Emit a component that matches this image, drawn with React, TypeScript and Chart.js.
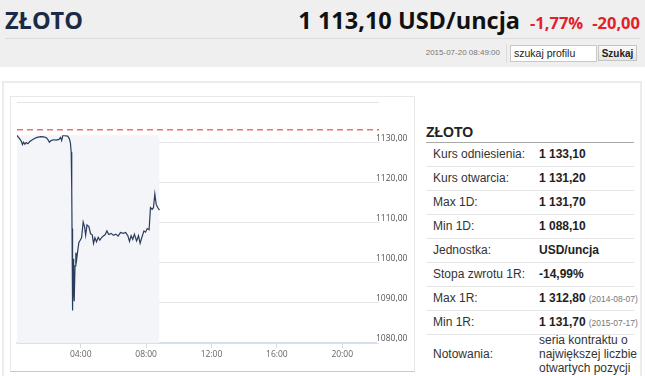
import React, { useEffect, useRef } from 'react';
import { Chart, registerables } from 'chart.js';

Chart.register(...registerables);

// ---- data ----
const timesMin = [6, 10, 16, 22, 26, 30, 35, 40, 46, 52, 60, 70, 80, 92, 104, 114, 120, 125, 131, 140, 150, 160, 166, 170, 174, 182, 192, 198, 202, 205, 207, 208, 210, 212, 214, 216, 219, 222, 225, 229, 233, 238, 243, 249, 254, 258, 263, 270, 276, 282, 287, 292, 298, 304, 310, 316, 322, 330, 336, 343, 352, 360, 369, 377, 386, 396, 405, 413, 419, 425, 431, 437, 445, 452, 458, 464, 472, 478, 484, 491, 496, 502, 507, 512, 517, 522, 529];
const prices = [1131.7, 1131.3, 1130.8, 1130.2, 1129.4, 1130.0, 1129.5, 1129.9, 1129.6, 1130.1, 1130.5, 1130.9, 1131.2, 1131.4, 1131.3, 1131.1, 1130.6, 1130.0, 1130.4, 1130.6, 1130.5, 1130.7, 1131.2, 1130.4, 1131.6, 1131.6, 1131.5, 1130.9, 1129.8, 1127.5, 1118.0, 1108.5, 1088.1, 1101.0, 1093.0, 1090.4, 1099.2, 1102.5, 1100.8, 1103.0, 1105.0, 1105.6, 1106.2, 1110.1, 1109.0, 1106.8, 1109.4, 1109.0, 1107.2, 1107.0, 1104.8, 1106.2, 1105.2, 1106.3, 1105.6, 1106.2, 1106.6, 1107.0, 1107.9, 1107.0, 1107.3, 1106.8, 1107.1, 1106.6, 1107.5, 1107.3, 1107.5, 1106.7, 1105.3, 1106.7, 1105.8, 1107.1, 1105.4, 1106.7, 1104.8, 1106.2, 1107.9, 1107.6, 1108.5, 1108.2, 1113.7, 1113.3, 1113.7, 1117.1, 1114.5, 1113.8, 1113.1];
const referencePrice = 1133.1;
const xRange = [6, 1324];
const referenceLineEnd = 1335;
const xTickMinutes = [240, 480, 720, 960, 1200];
const yGridValues = [1080, 1090, 1100, 1110, 1120, 1130, 1140];
const yLabelValues = [1080, 1090, 1100, 1110, 1120, 1130];

const tableLabels = ['Kurs odniesienia:', 'Kurs otwarcia:', 'Max 1D:', 'Min 1D:', 'Jednostka:', 'Stopa zwrotu 1R:', 'Max 1R:', 'Min 1R:'];
const tableValues = ['1 133,10', '1 131,20', '1 131,70', '1 088,10', 'USD/uncja', '-14,99%', '1 312,80', '1 131,70'];
const tableNotes = ['', '', '', '', '', '', '(2014-08-07)', '(2015-07-17)'];

const fmtHour = (m: number) => String(Math.floor(m / 60)).padStart(2, '0') + ':00';
const fmtPrice = (v: number) => v.toFixed(2).replace('.', ',');

function PriceChart() {
  const ref = useRef<HTMLCanvasElement | null>(null);
  useEffect(() => {
    if (!ref.current) return;
    const maxP = Math.max(...prices);
    const chart = new Chart(ref.current, {
      type: 'line',
      data: {
        datasets: [
          {
            data: timesMin.map((t, i) => ({ x: t, y: prices[i] })),
            borderColor: '#2b3d5c',
            borderWidth: 1.2,
            pointRadius: 0,
            fill: false,
            tension: 0,
            order: 0,
          },
          {
            data: [{ x: xRange[0], y: referencePrice }, { x: referenceLineEnd, y: referencePrice }],
            borderColor: '#ef7070',
            borderWidth: 1.4,
            borderDash: [6, 4],
            pointRadius: 0,
            fill: false,
            clip: false,
            order: 1,
          },
          {
            data: [{ x: timesMin[0], y: maxP }, { x: timesMin[timesMin.length - 1], y: maxP }],
            borderWidth: 0,
            borderColor: 'rgba(0,0,0,0)',
            backgroundColor: '#f4f5f8',
            pointRadius: 0,
            fill: 'start',
            order: 2,
          },
        ],
      },
      options: {
        animation: false,
        responsive: false,
        events: [],
        layout: { padding: { left: 7, top: 6, right: 0, bottom: 0 } },
        plugins: { legend: { display: false }, tooltip: { enabled: false } },
        scales: {
          x: {
            type: 'linear',
            min: xRange[0],
            max: xRange[1],
            afterBuildTicks: (s: any) => { s.ticks = xTickMinutes.map((v) => ({ value: v })); },
            afterFit: (s: any) => { s.height = 29; },
            ticks: {
              callback: (v: any) => fmtHour(Number(v)),
              font: { family: 'Open Sans', size: 8.5 },
              color: '#666',
              padding: 1,
              maxRotation: 0,
              autoSkip: false,
            },
            grid: { drawOnChartArea: false, drawTicks: true, tickLength: 5, color: '#d3dce8' },
            border: { color: '#d3dce8', width: 1.5 },
          },
          y: {
            position: 'right',
            min: 1080,
            max: 1140,
            afterBuildTicks: (s: any) => { s.ticks = yGridValues.map((v) => ({ value: v })); },
            afterFit: (s: any) => { s.width = 39; },
            ticks: {
              callback: (v: any) => (yLabelValues.includes(Number(v)) ? fmtPrice(Number(v)) : ''),
              font: { family: 'Open Sans', size: 8.5 },
              color: '#555',
              padding: -3,
              labelOffset: -4,
            },
            grid: { color: '#e4e4e4', drawTicks: true, tickLength: 3 },
            border: { display: false },
          },
        },
      },
    } as any);
    return () => chart.destroy();
  }, []);
  return <canvas ref={ref} width={405} height={276} style={{ width: 405, height: 276, display: 'block' }} />;
}

export default function App() {
  const abs = (o: any) => ({ position: 'absolute' as const, ...o });
  return (
    <div style={abs({ left: 0, top: 0, width: 645, height: 376, overflow: 'hidden', background: '#fff', fontFamily: 'Liberation Sans, Arial, sans-serif' })}>
      {/* header */}
      <div style={abs({ left: 0, top: 0, width: 645, height: 67, background: '#efefef' })} />
      <div style={abs({ left: 5, top: 5, fontFamily: 'Open Sans', fontWeight: 700, fontSize: 23.5, lineHeight: '30px', color: '#1b2a47' })}>ZŁOTO</div>
      <div style={abs({ right: 5, top: 5, display: 'flex', alignItems: 'baseline', whiteSpace: 'nowrap', fontFamily: 'Open Sans', fontWeight: 700 })}>
        <span style={{ fontSize: 23.5, lineHeight: '30px', color: '#111' }}>1 113,10 USD/uncja</span>
        <span style={{ fontSize: 16.5, color: '#e3202a', marginLeft: 10 }}>-1,77%</span>
        <span style={{ fontSize: 16.5, color: '#e3202a', marginLeft: 9 }}>-20,00</span>
      </div>
      <div style={abs({ left: 5, top: 38, width: 635, height: 1, background: '#dcdcdc' })} />
      <div style={abs({ right: 145, top: 48, fontSize: 8, color: '#777' })}>2015-07-20 08:49:00</div>
      <div style={abs({ left: 506, top: 44, width: 1, height: 19, background: '#dcdcdc' })} />
      <div style={abs({ left: 510, top: 45, width: 82, height: 15, background: '#fff', border: '1px solid #c8c8c8', fontSize: 10.5, lineHeight: '15px', paddingLeft: 3, color: '#222', boxSizing: 'content-box' })}>szukaj profilu</div>
      <div style={abs({ left: 598, top: 45, width: 39, height: 16, background: 'linear-gradient(#fafafa,#e4e4e4)', border: '1px solid #c4c4c4', fontSize: 10, fontWeight: 700, lineHeight: '16px', textAlign: 'center', color: '#222', boxSizing: 'border-box' })}>Szukaj</div>

      {/* outer container */}
      <div style={abs({ left: 2, top: 81, width: 640, height: 300, border: '2px solid #ececec', boxSizing: 'border-box' })} />
      {/* chart box */}
      <div style={abs({ left: 10, top: 96, width: 405, height: 276, borderLeft: '1px solid #e8e8e8', borderTop: '1px solid #e8e8e8', borderRight: '1px solid #e8e8e8', borderBottom: '1px solid #c8c8c8', boxSizing: 'border-box' })} />
      <div style={abs({ left: 10, top: 96 })}>
        <PriceChart />
      </div>

      {/* table */}
      <div style={abs({ left: 426, top: 124, fontWeight: 700, fontSize: 14, color: '#222', lineHeight: '16px' })}>ZŁOTO</div>
      <div style={abs({ left: 426, top: 142, width: 208, height: 1, background: '#a8a8a8' })} />
      {tableLabels.map((lab, i) => (
        <React.Fragment key={i}>
          <div style={abs({ left: 433, top: 147 + i * 24, fontSize: 12, lineHeight: '14px', color: '#333' })}>{lab}</div>
          <div style={abs({ left: 539, top: 147 + i * 24, fontSize: 12, lineHeight: '14px', color: '#222', fontWeight: 700, whiteSpace: 'nowrap' })}>
            {tableValues[i]}
            {tableNotes[i] ? <span style={{ fontWeight: 400, fontSize: 8.5, color: '#777', marginLeft: 3 }}>{tableNotes[i]}</span> : null}
          </div>
          <div style={abs({ left: 426, top: 166 + i * 24, width: 208, height: 1, background: '#e6e6e6' })} />
        </React.Fragment>
      ))}
      <div style={abs({ left: 433, top: 347, fontSize: 12, lineHeight: '14px', color: '#333' })}>Notowania:</div>
      <div style={abs({ left: 539, top: 333, width: 100, fontSize: 12, lineHeight: '14px', color: '#333' })}>seria kontraktu o największej liczbie otwartych pozycji</div>
    </div>
  );
}
